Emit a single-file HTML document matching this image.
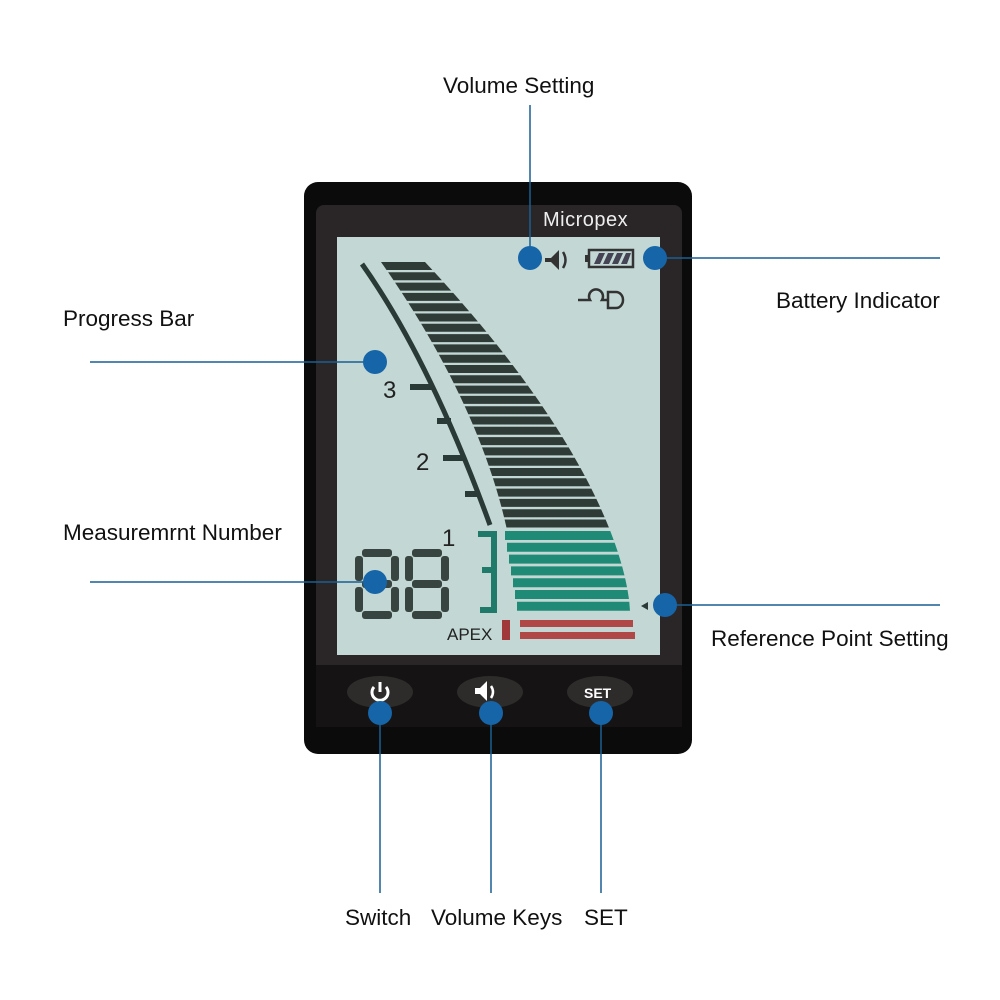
<!DOCTYPE html>
<html><head><meta charset="utf-8"><style>
body{margin:0;width:1000px;height:1000px;background:#fff;overflow:hidden;position:relative;font-family:"Liberation Sans",Arial,sans-serif}
.l{position:absolute;font-size:22.5px;color:#111;white-space:nowrap}
</style></head><body>
<svg id="s" width="1000" height="1000" style="position:absolute;left:0;top:0">
<rect x="304" y="182" width="388" height="572" rx="14" fill="#0b0b0b"/>
<rect x="316" y="205" width="366" height="522" rx="8" fill="#2a2628"/>
<rect x="316" y="665" width="366" height="62" fill="#151313"/>
<text x="543" y="226" font-size="20" fill="#eee" font-family="Liberation Sans" letter-spacing="0.5">Micropex</text>
<rect x="337" y="237" width="323" height="418" fill="#c3d8d4"/>
<g id="bars"></g>
<path d="M362 264 Q430 360 490 525" stroke="#2a3a36" stroke-width="5" fill="none"/>
<g fill="#2a3a36">
<rect x="410" y="384" width="24" height="6"/><rect x="437" y="418" width="14" height="6"/>
<rect x="443" y="455" width="22" height="6"/><rect x="465" y="491" width="12" height="6"/>
</g>
<g font-family="Liberation Sans" font-size="24" fill="#222"><text x="383" y="398">3</text><text x="416" y="470">2</text><text x="442" y="546">1</text></g>
<path d="M478 534 H494 V610 H480 M482 570 H494" stroke="#1f7a6a" stroke-width="6" fill="none"/>
<text x="447" y="640" font-size="17" fill="#222" font-family="Liberation Sans">APEX</text>
<rect x="502" y="620" width="8" height="20" fill="#a03a3a"/>
<g id="dig"></g>
<path d="M545 258 h6 l8-8 v20 l-8-8 h-6z" fill="#333"/><path d="M563 252 q5 8 0 16" stroke="#333" stroke-width="2.5" fill="none"/>
<rect x="589" y="250" width="44" height="17" fill="none" stroke="#333" stroke-width="2.5"/><rect x="585" y="255" width="4" height="7" fill="#333"/>
<g fill="#445"><polygon points="594,264 599,253 605,253 600,264"/><polygon points="603,264 608,253 614,253 609,264"/><polygon points="612,264 617,253 623,253 618,264"/><polygon points="621,264 626,253 631,253 627,264"/></g>
<path d="M578 300 h12 a7 7 0 1 1 12 0 h6 M608 292 h8 a7 8 0 0 1 0 16 h-8z" stroke="#333" stroke-width="2.5" fill="none"/>
<polygon points="648,602 641,606 648,610" fill="#2a3a36"/>
<ellipse cx="380" cy="692" rx="33" ry="16" fill="#2e2b2b"/><ellipse cx="490" cy="692" rx="33" ry="16" fill="#2e2b2b"/><ellipse cx="600" cy="692" rx="33" ry="16" fill="#2e2b2b"/>
<path d="M374 687 a8 8 0 1 0 12 0" stroke="#fff" stroke-width="3" fill="none"/><line x1="380" y1="682" x2="380" y2="692" stroke="#fff" stroke-width="3"/>
<path d="M475 688 h5 l7-7 v20 l-7-7 h-5z" fill="#fff"/><path d="M491 686 q4 6 0 12" stroke="#fff" stroke-width="2.5" fill="none"/>
<text x="584" y="698" font-size="14" fill="#fff" font-weight="bold" font-family="Liberation Sans">SET</text>
<g stroke="#1a5f93" stroke-width="1.5">
<line x1="530" y1="105" x2="530" y2="258"/><line x1="655" y1="258" x2="940" y2="258"/>
<line x1="90" y1="362" x2="375" y2="362"/><line x1="90" y1="582" x2="375" y2="582"/>
<line x1="668" y1="605" x2="940" y2="605"/>
<line x1="380" y1="712" x2="380" y2="893"/><line x1="491" y1="712" x2="491" y2="893"/><line x1="601" y1="712" x2="601" y2="893"/>
</g>
<g fill="#1665a8">
<circle cx="530" cy="258" r="12"/><circle cx="655" cy="258" r="12"/><circle cx="375" cy="362" r="12"/><circle cx="375" cy="582" r="12"/><circle cx="665" cy="605" r="12"/>
<circle cx="380" cy="713" r="12"/><circle cx="491" cy="713" r="12"/><circle cx="601" cy="713" r="12"/>
</g>
</svg>
<div class="l" style="left:443px;top:73px">Volume Setting</div>
<div class="l" style="left:776px;top:288px">Battery Indicator</div>
<div class="l" style="left:63px;top:306px">Progress Bar</div>
<div class="l" style="left:63px;top:520px">Measuremrnt Number</div>
<div class="l" style="left:711px;top:626px">Reference Point Setting</div>
<div class="l" style="left:345px;top:905px">Switch</div>
<div class="l" style="left:431px;top:905px">Volume Keys</div>
<div class="l" style="left:584px;top:905px">SET</div>
<script>
var g=document.getElementById('bars'),h='';
function R(y){var t=(y-262)/350;return 425+205*(1-Math.pow(1-t,1.6));}
function L(y){var t=(y-262)/350;return 381+136*(1-Math.pow(1-t,1.8));}
for(var i=0;i<26;i++){var y=262+i*10.3;h+='<polygon fill="#2f3b37" points="'+L(y)+','+y+' '+R(y)+','+y+' '+R(y+8)+','+(y+8)+' '+L(y+8)+','+(y+8)+'"/>';}
for(var i=0;i<7;i++){var y=531+i*11.8;var l=505+i*2;h+='<polygon fill="#1f8a76" points="'+l+','+y+' '+R(y)+','+y+' '+R(y+9)+','+(y+9)+' '+l+','+(y+9)+'"/>';}
h+='<rect x="520" y="620" width="113" height="7" fill="#b04848"/><rect x="520" y="632" width="115" height="7" fill="#b04848"/>';
g.innerHTML=h;
var d='';function digit(x){var c='#37443f',w=8;
d+='<rect x="'+(x+7)+'" y="549" width="30" height="'+w+'" rx="3" fill="'+c+'"/>';
d+='<rect x="'+(x+7)+'" y="580" width="30" height="'+w+'" rx="3" fill="'+c+'"/>';
d+='<rect x="'+(x+7)+'" y="611" width="30" height="'+w+'" rx="3" fill="'+c+'"/>';
[[x,556],[x+36,556],[x,587],[x+36,587]].forEach(function(p){d+='<rect x="'+p[0]+'" y="'+p[1]+'" width="'+w+'" height="25" rx="3" fill="'+c+'"/>';});}
digit(355);digit(405);document.getElementById('dig').innerHTML=d;
</script>
</body></html>
